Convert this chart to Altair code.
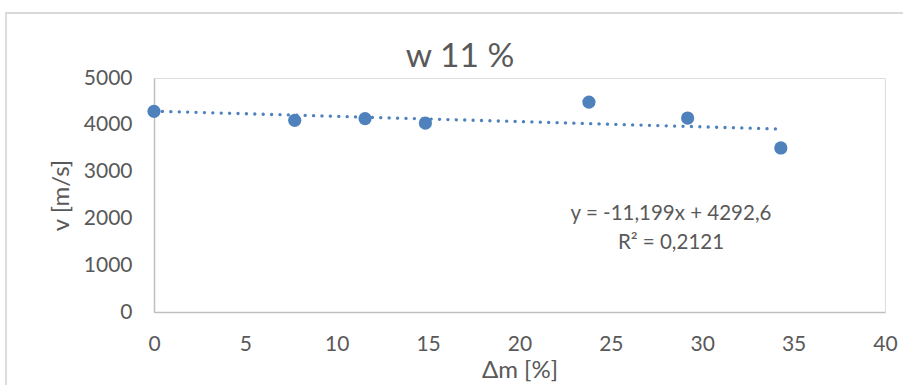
import altair as alt
import pandas as pd

# Mass loss (%) and ultrasonic velocity (m/s) for the w 11 % series
dm_pct = [0, 7.7, 11.55, 14.85, 23.8, 29.2, 34.3]
v_ms = [4288, 4096, 4132, 4038, 4486, 4145, 3505]

# Linear trendline reported for the series
slope = -11.199
intercept = 4292.6
eq_lines = ["y = -11,199x + 4292,6", "R² = 0,2121"]
chart_title = "w 11 %"

x_ticks = [0, 5, 10, 15, 20, 25, 30, 35, 40]
y_ticks = [0, 1000, 2000, 3000, 4000, 5000]

BLUE = "#4f81bd"
TEXT = "#595959"
AXIS = "#bfbfbf"
FONT = "Lato"

points = pd.DataFrame({"dm": dm_pct, "v": v_ms})
trend_x = [0, max(dm_pct)]
trend = pd.DataFrame({"dm": trend_x, "v": [intercept + slope * x for x in trend_x]})

x_scale = alt.Scale(domain=[0, 40], nice=False, zero=False)
y_scale = alt.Scale(domain=[0, 5000], nice=False)

x_axis = alt.Axis(
    values=x_ticks, title="Δm [%]", grid=False, ticks=False, tickSize=0,
    labelFontSize=21, labelColor=TEXT, labelFont=FONT, labelPadding=21,
    labelFlush=False, format="d",
    domainColor=AXIS, domainWidth=1.5,
    titleFontSize=24, titleFont=FONT, titleColor=TEXT, titleFontWeight="normal",
    titlePadding=4,
)
y_axis = alt.Axis(
    values=y_ticks, title="v [m/s]", grid=False, ticks=False, tickSize=0,
    labelFontSize=21, labelColor=TEXT, labelFont=FONT, labelPadding=22,
    labelFlush=False, format="d",
    domainColor=AXIS, domainWidth=1.5,
    titleFontSize=24, titleFont=FONT, titleColor=TEXT, titleFontWeight="normal",
    titlePadding=10,
)

# Thin frame around the whole chart area
frame = alt.Chart(pd.DataFrame({"k": [0]})).mark_rect(
    fillOpacity=0, stroke="#d9d9d9", strokeWidth=1.8
).encode(
    x=alt.value(-148), x2=alt.value(800),
    y=alt.value(-65), y2=alt.value(360),
)

trend_line = alt.Chart(trend).mark_line(
    color=BLUE, strokeWidth=3.3, strokeDash=[0.1, 8.3], strokeCap="round"
).encode(
    x=alt.X("dm:Q", scale=x_scale, axis=x_axis),
    y=alt.Y("v:Q", scale=y_scale, axis=y_axis),
)

dots = alt.Chart(points).mark_circle(
    color=BLUE, size=175, opacity=1
).encode(
    x=alt.X("dm:Q", scale=x_scale, axis=x_axis),
    y=alt.Y("v:Q", scale=y_scale, axis=y_axis),
)

equation = alt.Chart(pd.DataFrame({"t": ["\n".join(eq_lines)]})).mark_text(
    font=FONT, fontSize=20.5, color=TEXT, align="center", baseline="alphabetic",
    lineBreak="\n", lineHeight=29.8,
).encode(
    text="t:N",
    x=alt.value(517),
    y=alt.value(141.5),
)

# Chart title, centred over the whole chart area rather than the plot
title = alt.Chart(pd.DataFrame({"t": [chart_title]})).mark_text(
    font=FONT, fontSize=33.5, color=TEXT, align="center", baseline="alphabetic",
).encode(
    text="t:N",
    x=alt.value(306),
    y=alt.value(-10.7),
)

chart = alt.layer(frame, trend_line, dots, equation, title).properties(
    width=731,
    height=234,
    autosize=alt.AutoSizeParams(type="none"),
    padding={"left": 154, "top": 78, "right": 18, "bottom": 73},
).configure_view(stroke=None).configure(background="white")

chart.save("out.html", embed_options={"renderer": "svg", "actions": False})
